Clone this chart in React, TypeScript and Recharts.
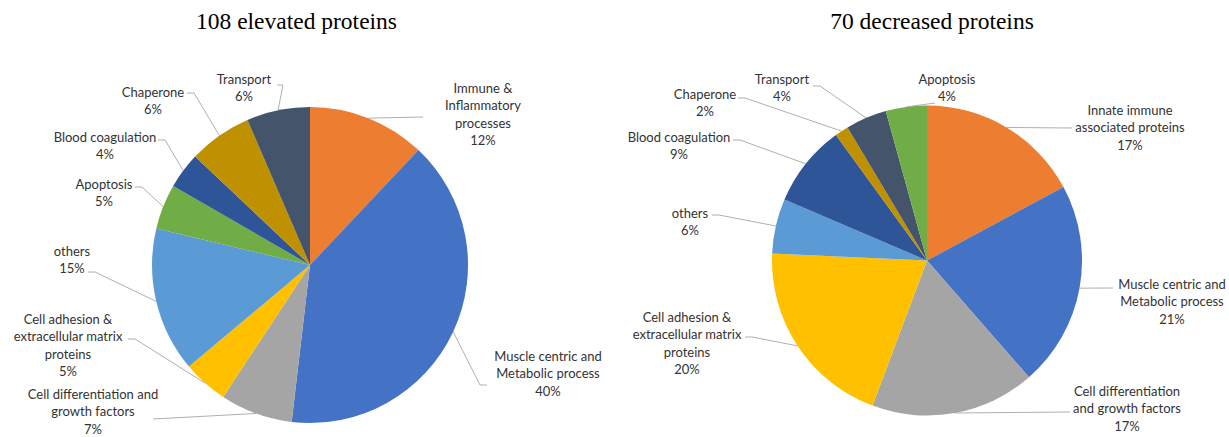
import { PieChart, Pie, Cell } from 'recharts'

// slice order: clockwise from 12 o'clock, as in the source figure
const elevatedNames = [
  'Immune &\nInflammatory\nprocesses',
  'Muscle centric and\nMetabolic process',
  'Cell differentiation and\ngrowth factors',
  'Cell adhesion &\nextracellular matrix\nproteins',
  'others',
  'Apoptosis',
  'Blood coagulation',
  'Chaperone',
  'Transport',
]
const elevatedCounts = [13, 43, 8, 5, 16, 5, 4, 7, 7]
const elevatedPct = ['12%', '40%', '7%', '5%', '15%', '5%', '4%', '6%', '6%']
const elevatedColors = ['#ED7D31', '#4472C4', '#A5A5A5', '#FFC000', '#5B9BD5', '#70AD47', '#2E5597', '#BF9000', '#44546A']

const decreasedNames = [
  'Innate immune\nassociated proteins',
  'Muscle centric and\nMetabolic process',
  'Cell differentiation\nand growth factors',
  'Cell adhesion &\nextracellular matrix\nproteins',
  'others',
  'Blood coagulation',
  'Chaperone',
  'Transport',
  'Apoptosis',
]
const decreasedCounts = [12, 15, 12, 14, 4, 6, 1, 3, 3]
const decreasedPct = ['17%', '21%', '17%', '20%', '6%', '9%', '2%', '4%', '4%']
const decreasedColors = ['#ED7D31', '#4472C4', '#A5A5A5', '#FFC000', '#5B9BD5', '#2E5597', '#BF9000', '#44546A', '#70AD47']

// label placement relative to pie centre: text x, first line y, leader end x/y, elbow stub
type LabelPos = [number, number, number, number, number]
const elevatedLabelPos: LabelPos[] = [
  [173, -177, 113, -148, 0],
  [238, 91, 177, 120, -7],
  [-217, 129, -157, 154, 0],
  [-242, 54, -182, 74, 7],
  [-238, -14, -222, 7, 7],
  [-206, -81, -175, -78, 7],
  [-205, -128, -152, -125, 7],
  [-157, -173, -123, -172, 7],
  [-66, -186, -33, -180, 6],
]
const decreasedLabelPos: LabelPos[] = [
  [203, -150.5, 145, -132.5, 0],
  [245, 23.5, 186, 27.5, 0],
  [200, 130.5, 143, 151.5, 0],
  [-240, 56.5, -182, 76.5, 7],
  [-237, -47.5, -215, -45.5, 7],
  [-248, -123.5, -194, -120.5, 7],
  [-222, -166.5, -189, -162.5, 7],
  [-145, -181.5, -114, -174.5, 7],
  [20, -181.5, 8, -157.5, 0],
]

const RAD = Math.PI / 180
const LINE_H = 17.4

function makeLabel(pos: LabelPos[], pct: string[]) {
  return (props: any) => {
    const { cx, cy, midAngle, outerRadius, index, name } = props
    const [tx, ty, ax, ay, stub] = pos[index]
    const ex = cx + outerRadius * Math.cos(-midAngle * RAD)
    const ey = cy + outerRadius * Math.sin(-midAngle * RAD)
    const lines = [...String(name).split('\n'), pct[index]]
    const pts = stub
      ? `${ex},${ey} ${cx + ax + stub},${cy + ay} ${cx + ax},${cy + ay}`
      : `${ex},${ey} ${cx + ax},${cy + ay}`
    return (
      <g key={`lbl-${index}`}>
        <polyline points={pts} fill="none" stroke="#A6A6A6" strokeWidth={0.9} />
        {lines.map((l, i) => (
          <text
            key={i}
            x={cx + tx}
            y={cy + ty + i * LINE_H}
            textAnchor="middle"
            dominantBaseline="central"
            fontFamily="Lato, 'Open Sans', sans-serif"
            fontSize={13}
            fill="#333333"
          >
            {l}
          </text>
        ))}
      </g>
    )
  }
}

const elevatedData = elevatedNames.map((n, i) => ({ name: n, value: elevatedCounts[i] }))
const decreasedData = decreasedNames.map((n, i) => ({ name: n, value: decreasedCounts[i] }))

const titleStyle = {
  position: 'absolute' as const,
  top: 10,
  width: 400,
  textAlign: 'center' as const,
  fontFamily: "'Liberation Serif', 'Times New Roman', serif",
  fontSize: 23.5,
  lineHeight: '22px',
  color: '#000',
}

export default function App() {
  return (
    <div style={{ position: 'absolute', left: 0, top: 0, width: 1229, height: 437, background: '#fff' }}>
      <div style={{ ...titleStyle, left: 296.5 - 200 }}>108 elevated proteins</div>
      <div style={{ ...titleStyle, left: 932 - 200 }}>70 decreased proteins</div>
      <PieChart width={1229} height={437} margin={{ top: 0, right: 0, bottom: 0, left: 0 }}>
        <Pie
          data={elevatedData}
          dataKey="value"
          nameKey="name"
          cx={310}
          cy={265}
          outerRadius={158}
          startAngle={90}
          endAngle={-270}
          stroke="none"
          labelLine={false}
          label={makeLabel(elevatedLabelPos, elevatedPct)}
          isAnimationActive={false}
        >
          {elevatedData.map((d, i) => (
            <Cell key={d.name} fill={elevatedColors[i]} />
          ))}
        </Pie>
        <Pie
          data={decreasedData}
          dataKey="value"
          nameKey="name"
          cx={927}
          cy={260.5}
          outerRadius={155}
          startAngle={90}
          endAngle={-270}
          stroke="none"
          labelLine={false}
          label={makeLabel(decreasedLabelPos, decreasedPct)}
          isAnimationActive={false}
        >
          {decreasedData.map((d, i) => (
            <Cell key={d.name} fill={decreasedColors[i]} />
          ))}
        </Pie>
      </PieChart>
    </div>
  )
}
